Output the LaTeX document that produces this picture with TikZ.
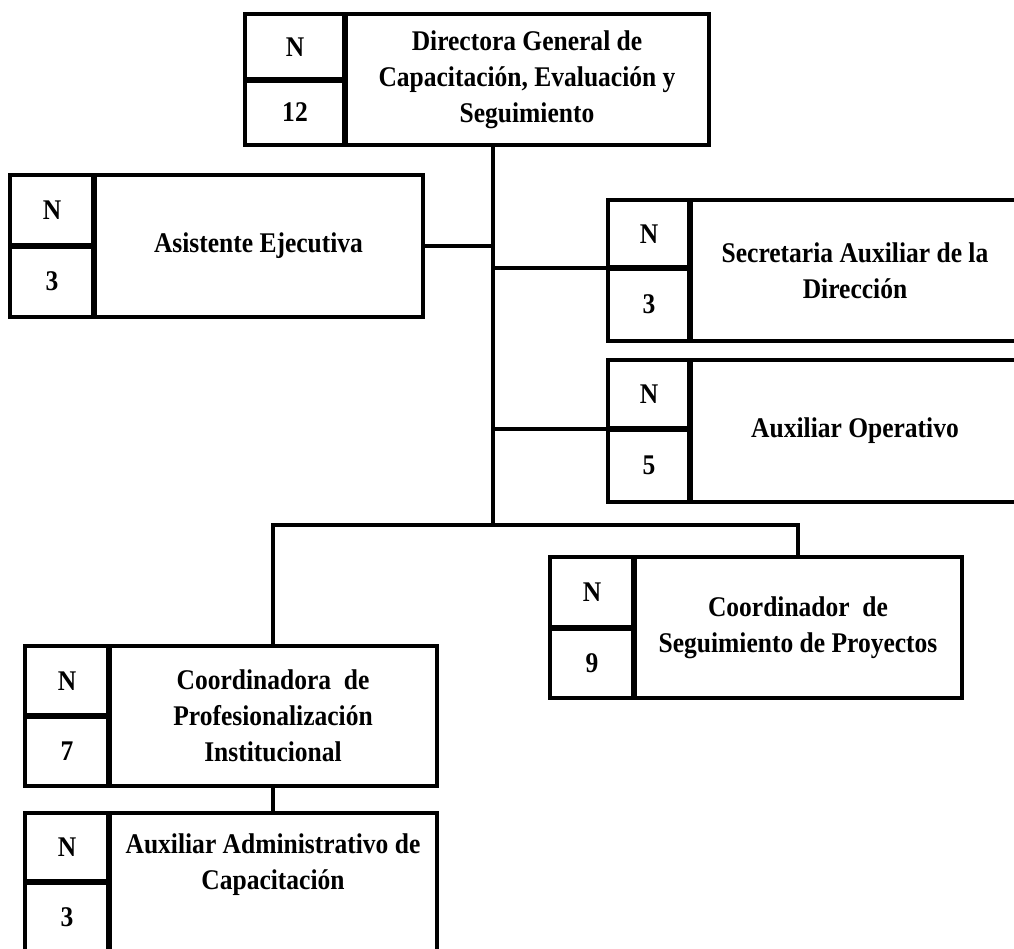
\documentclass[tikz,border=0pt]{standalone}
\usepackage{fontspec}
\setmainfont{Liberation Serif}[FakeStretch=0.895]
\begin{document}
\begin{tikzpicture}[x=1pt,y=-1pt,
  cell/.style={draw, line width=4pt, inner sep=0pt, outer sep=0pt, anchor=north west, align=center,
    font=\bfseries\fontsize{28.5}{36}\selectfont},
  divv/.style={line width=6pt},
  divh/.style={line width=5.5pt},
  conn/.style={line width=3.5pt},
  txt/.style={inner sep=0pt, align=center, font=\bfseries\fontsize{28.5}{36}\selectfont}]
\useasboundingbox (0,0) rectangle (1014,949);
\clip (0,0) rectangle (1014,949);
% Box 1
\node[cell, minimum width=100pt, minimum height=66pt] (b1n) at (245,14) {N};
\node[cell, minimum width=100pt, minimum height=65pt] (b1c) at (b1n.south west) {12};
\node[cell, minimum width=364pt, minimum height=131pt] (b1) at (b1n.north east) {Directora General de\\Capacitación, Evaluación y\\Seguimiento};
\draw[divh] (b1n.south west) -- (b1n.south east);
\draw[divv] (b1.north west) -- (b1.south west);
% Box 2
\node[cell, minimum width=84pt, minimum height=71pt] (b2n) at (10,175) {N};
\node[cell, minimum width=84pt, minimum height=71pt] (b2c) at (b2n.south west) {3};
\node[cell, minimum width=329pt, minimum height=142pt] (b2) at (b2n.north east) {Asistente Ejecutiva};
\draw[divh] (b2n.south west) -- (b2n.south east);
\draw[divv] (b2.north west) -- (b2.south west);
% Box 3
\node[cell, minimum width=82pt, minimum height=68pt] (b3n) at (608,200) {N};
\node[cell, minimum width=82pt, minimum height=73pt] (b3c) at (b3n.south west) {3};
\node[cell, minimum width=330pt, minimum height=141pt] (b3) at (b3n.north east) {Secretaria Auxiliar de la\\Dirección};
\draw[divh] (b3n.south west) -- (b3n.south east);
\draw[divv] (b3.north west) -- (b3.south west);
% Box 4
\node[cell, minimum width=82pt, minimum height=69pt] (b4n) at (608,360) {N};
\node[cell, minimum width=82pt, minimum height=73pt] (b4c) at (b4n.south west) {5};
\node[cell, minimum width=330pt, minimum height=142pt] (b4) at (b4n.north east) {Auxiliar Operativo};
\draw[divh] (b4n.south west) -- (b4n.south east);
\draw[divv] (b4.north west) -- (b4.south west);
% Box 5
\node[cell, minimum width=84pt, minimum height=71pt] (b5n) at (550,557) {N};
\node[cell, minimum width=84pt, minimum height=70pt] (b5c) at (b5n.south west) {9};
\node[cell, minimum width=328pt, minimum height=141pt] (b5) at (b5n.north east) {Coordinador\ \ de\\Seguimiento de Proyectos};
\draw[divh] (b5n.south west) -- (b5n.south east);
\draw[divv] (b5.north west) -- (b5.south west);
% Box 6
\node[cell, minimum width=84pt, minimum height=70pt] (b6n) at (25,646) {N};
\node[cell, minimum width=84pt, minimum height=70pt] (b6c) at (b6n.south west) {7};
\node[cell, minimum width=328pt, minimum height=140pt] (b6) at (b6n.north east) {Coordinadora\ \ de\\Profesionalización\\Institucional};
\draw[divh] (b6n.south west) -- (b6n.south east);
\draw[divv] (b6.north west) -- (b6.south west);
% Box 7
\node[cell, minimum width=84pt, minimum height=69pt] (b7n) at (25,813) {N};
\node[cell, minimum width=84pt, minimum height=71pt] (b7c) at (b7n.south west) {3};
\node[cell, minimum width=328pt, minimum height=140pt] (b7) at (b7n.north east) {};
\node[txt] (b7t) at (273,865) {Auxiliar Administrativo de\\Capacitación};
\draw[divh] (b7n.south west) -- (b7n.south east);
\draw[divv] (b7.north west) -- (b7.south west);
% connectors
\coordinate (j) at (493,525);
\draw[conn] (b1.south -| j) -- (j);
\draw[conn] (b2.east) -- (b2.east -| j);
\draw[conn] (b3n.south west -| j) -- (b3n.south west);
\draw[conn] (b4n.south west -| j) -- (b4n.south west);
\draw[conn] (b6.north) -- (b6.north |- j) -- (b5.north |- j) -- (b5.north);
\draw[conn] (b6.south) -- (b7.north);
\end{tikzpicture}
\end{document}
